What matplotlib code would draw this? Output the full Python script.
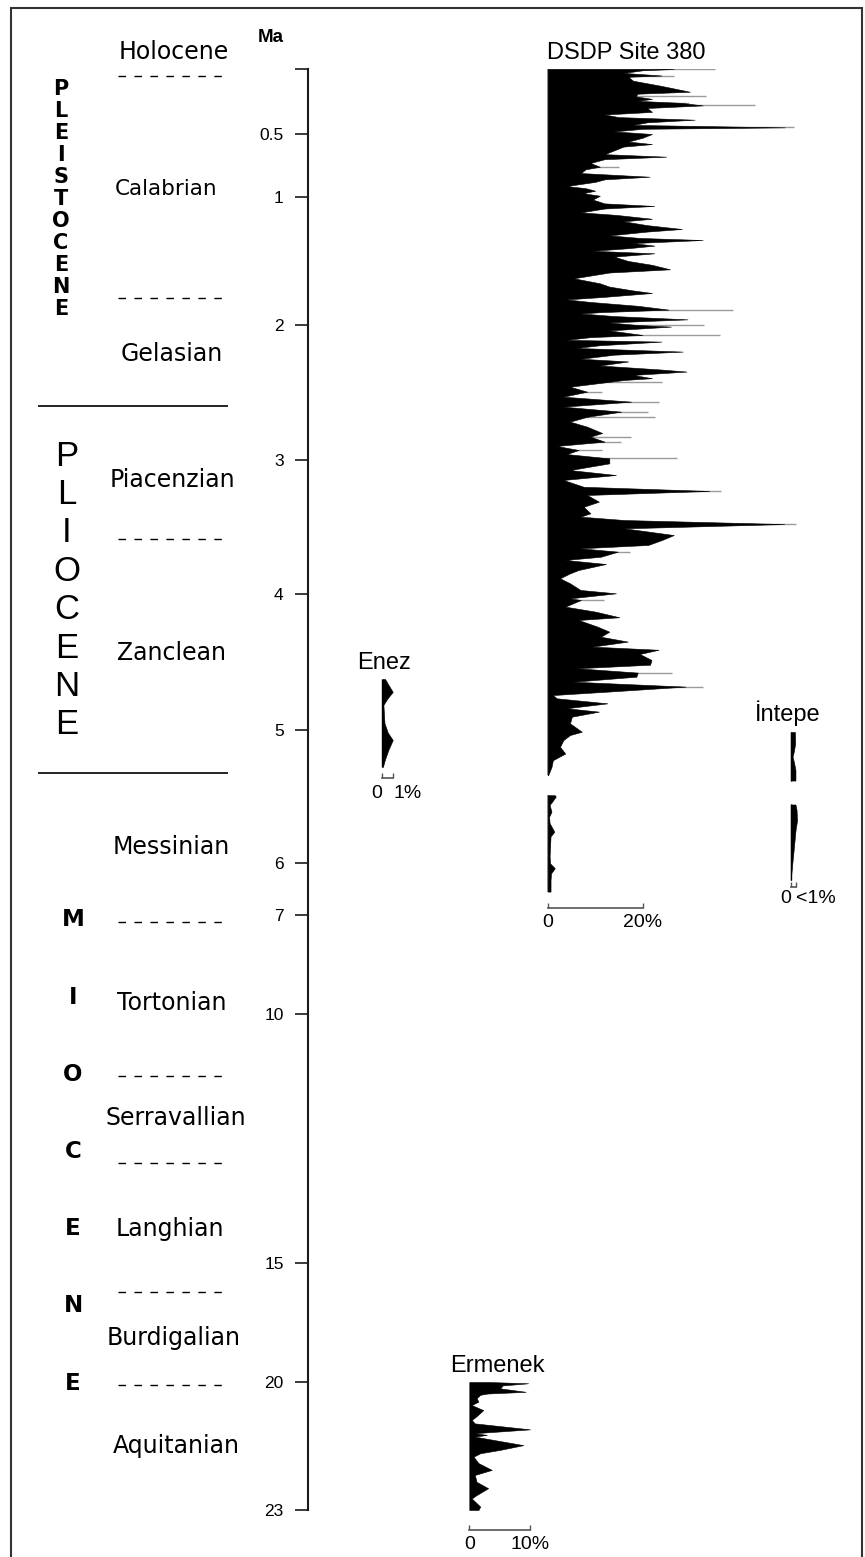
import numpy as np
import matplotlib
matplotlib.use("Agg")
import matplotlib.pyplot as plt
from matplotlib import transforms
from matplotlib.patches import Rectangle
from matplotlib.ticker import NullLocator

plt.rcParams["font.family"] = ["Liberation Sans", "DejaVu Sans"]

# ============================================================
# Data (ages in Ma, abundances in %)
# ============================================================

AXIS_TICKS = [0, 0.5, 1, 2, 3, 4, 5, 6, 7, 10, 15, 20, 23]
AXIS_LABELS = ["", "0.5", "1", "2", "3", "4", "5", "6", "7", "10", "15", "20", "23"]

STAGES = ["Holocene", "Calabrian", "Gelasian", "Piacenzian", "Zanclean", "Messinian",
          "Tortonian", "Serravallian", "Langhian", "Burdigalian", "Aquitanian"]
STAGE_LABEL_AGES = [-0.13, 0.94, 2.215, 3.15, 4.434, 5.88, 9.67, 12.09, 14.32, 18.15, 21.5]
STAGE_BOUNDS = [0.054, 1.789, 3.59, 7.21, 11.245, 12.99, 16.22, 20.07]
EPOCH_BOUNDS = [2.6, 5.323]
EPOCHS = ["PLEISTOCENE", "PLIOCENE", "MIOCENE"]

# DSDP Site 380, upper interval (age, %)
DSDP_UPPER = [
    (0.000, 26.6), (0.010, 20), (0.030, 16), (0.050, 24), (0.060, 17), (0.090, 18),
    (0.130, 24), (0.175, 30), (0.190, 19), (0.210, 18.5), (0.230, 22), (0.245, 19),
    (0.260, 28), (0.280, 32.7), (0.300, 21), (0.330, 22), (0.350, 12), (0.370, 15),
    (0.390, 31), (0.410, 21), (0.430, 18), (0.449, 50), (0.460, 20), (0.480, 14),
    (0.500, 22), (0.530, 20), (0.560, 17), (0.580, 22), (0.600, 16), (0.630, 14),
    (0.660, 12), (0.680, 25), (0.700, 12), (0.730, 9), (0.760, 11), (0.780, 8),
    (0.810, 7), (0.839, 21.5), (0.860, 12), (0.880, 10), (0.913, 4), (0.930, 8),
    (0.950, 10), (0.970, 7.5), (0.990, 11), (1.020, 9.5), (1.050, 12), (1.070, 22.5),
    (1.090, 12), (1.120, 7), (1.140, 14.5), (1.170, 22), (1.190, 16), (1.220, 21),
    (1.250, 28.3), (1.270, 21), (1.300, 13), (1.320, 19.5), (1.336, 32.7), (1.360, 18),
    (1.380, 22.5), (1.400, 17), (1.420, 9.5), (1.440, 22.5), (1.466, 14), (1.500, 17),
    (1.530, 22), (1.565, 25.8), (1.590, 13), (1.620, 8), (1.635, 5.5), (1.660, 9),
    (1.674, 11), (1.700, 13), (1.730, 18), (1.750, 22), (1.780, 12), (1.800, 4),
    (1.820, 9), (1.850, 19), (1.880, 25.5), (1.900, 11), (1.910, 7), (1.930, 14),
    (1.956, 29.5), (1.980, 13), (2.000, 19), (2.012, 26), (2.040, 13), (2.074, 20),
    (2.090, 9), (2.110, 4), (2.123, 24), (2.150, 11), (2.170, 6), (2.197, 28.5),
    (2.220, 14), (2.250, 7), (2.270, 17), (2.300, 11), (2.330, 24), (2.345, 29.3),
    (2.370, 18), (2.394, 22), (2.407, 16.2), (2.457, 4.7), (2.494, 8.3), (2.531, 3.3),
    (2.568, 17.6), (2.605, 3.3), (2.642, 15.5), (2.680, 8.3), (2.716, 4.7), (2.753, 8.3),
    (2.800, 11.5), (2.827, 9.0), (2.864, 12.0), (2.896, 1.9), (2.926, 6.5), (2.956, 4.0),
    (2.988, 13.0), (3.025, 13.0), (3.075, 4.7), (3.112, 14.4), (3.149, 3.3), (3.200, 7.6),
    (3.231, 34.1), (3.261, 8.3), (3.311, 10.8), (3.349, 7.6), (3.398, 9.0), (3.423, 6.9),
    (3.448, 16.2), (3.478, 49.9), (3.510, 16.2), (3.560, 26.6), (3.597, 24.1), (3.634, 21.2),
    (3.659, 6.9), (3.684, 14.8), (3.722, 11.2), (3.746, 3.7), (3.776, 12.3), (3.821, 6.5),
    (3.846, 4.7), (3.883, 2.6), (3.920, 4.7), (3.970, 6.9), (3.995, 14.4), (4.032, 4.7),
    (4.044, 7.0), (4.093, 3.7), (4.130, 10.1), (4.171, 15.1), (4.191, 6.5), (4.240, 10.5),
    (4.277, 13.0), (4.314, 11.2), (4.350, 16.9), (4.387, 9.4), (4.410, 23.4), (4.441, 19.4),
    (4.485, 21.9), (4.520, 21.6), (4.546, 6.2), (4.578, 19.0), (4.608, 18.7), (4.645, 5.4),
    (4.681, 29.1), (4.718, 12.6), (4.743, 1.1), (4.767, 1.9), (4.804, 12.6), (4.840, 4.0),
    (4.865, 10.8), (4.902, 5.1), (4.951, 4.7), (5.013, 7.2), (5.038, 4.7), (5.076, 3.3),
    (5.126, 2.6), (5.177, 3.7), (5.227, 1.1), (5.278, 0.8), (5.340, 0.1),
]

# DSDP Site 380, lower (Messinian) interval
DSDP_LOWER = [
    (5.490, 1.5), (5.500, 1.7), (5.526, 1.2), (5.564, 0.4), (5.614, 0.8), (5.652, 0.3),
    (5.700, 0.4), (5.765, 1.4), (5.800, 0.6), (5.877, 0.5), (5.950, 0.4), (6.006, 0.5),
    (6.100, 1.5), (6.200, 0.7), (6.330, 0.6), (6.550, 0.6),
]

# light-grey peaks extending beyond the black curve
DSDP_GREY = [
    (0.000, 35.4), (0.050, 26.6), (0.210, 33.4), (0.260, 29.8), (0.280, 43.8), (0.449, 52.0),
    (0.760, 15.0), (1.880, 39.0), (2.000, 33.0), (2.074, 36.3), (2.420, 24.1), (2.494, 11.5),
    (2.568, 23.4), (2.642, 21.2), (2.680, 22.7), (2.827, 17.6), (2.864, 15.5), (2.926, 11.5),
    (2.988, 27.3), (3.231, 36.6), (3.478, 52.4), (3.684, 17.3), (4.044, 11.9), (4.578, 26.2),
    (4.681, 32.7),
]

ENEZ = [
    (4.625, 0.25), (4.660, 0.5), (4.720, 0.95), (4.770, 0.45), (4.816, 0.1), (4.880, 0.15),
    (4.950, 0.2), (5.020, 0.5), (5.075, 0.95), (5.150, 0.55), (5.220, 0.25), (5.278, 0.05),
]

INTEPE_UPPER = [(5.015, 0.8), (5.100, 0.85), (5.160, 0.6), (5.200, 0.35), (5.240, 0.6),
                (5.300, 0.9), (5.380, 0.9)]
INTEPE_LOWER = [(5.560, 0.9), (5.600, 1.1), (5.680, 1.2), (5.750, 0.92), (5.850, 0.68),
                (5.950, 0.44), (6.050, 0.26), (6.150, 0.17), (6.250, 0.07), (6.330, 0.0)]

ERMENEK = [
    (20.00, 3.1), (20.03, 9.7), (20.08, 5.5), (20.15, 5.1), (20.23, 9.3), (20.27, 3.0),
    (20.30, 1.8), (20.38, 1.2), (20.46, 1.5), (20.54, 0.4), (20.66, 2.3), (20.80, 1.2),
    (20.89, 0.4), (20.97, 0.9), (21.11, 10.0), (21.20, 0.9), (21.24, 2.9), (21.28, 0.9),
    (21.48, 8.9), (21.59, 5.1), (21.67, 1.8), (21.75, 0.7), (21.90, 1.5), (22.06, 3.7),
    (22.18, 0.9), (22.34, 1.2), (22.49, 3.1), (22.65, 1.2), (22.73, 0.4), (22.92, 1.8),
    (23.00, 1.5),
]

# ============================================================
# Layout: the schematic time axis is not linear
# ============================================================

W, H = 865, 1557
SCALE_AGES = [-1, 0, 0.5, 1, 2, 3, 4, 5, 6, 7, 10, 15, 20, 23, 24]
SCALE_PX = [-61, 69, 134, 197, 325, 460, 594, 730, 863, 915, 1014, 1263, 1382, 1510, 1553]
AX_TOP, AX_BOT = 69, 1510


def to_px(age):
    return np.interp(age, SCALE_AGES, SCALE_PX)


def to_age(px):
    return np.interp(px, SCALE_PX, SCALE_AGES)


def fx(px):
    return px / W


def fy(py):
    return 1 - py / H


fig = plt.figure(figsize=(W / 100, H / 100), dpi=100)

ax = fig.add_axes([fx(308), fy(AX_BOT), 0.3, (AX_BOT - AX_TOP) / H])
ax.set_yscale("function", functions=(to_px, to_age))
ax.set_ylim(23, 0)
ax.patch.set_alpha(0)
for s in ["top", "right", "bottom"]:
    ax.spines[s].set_visible(False)
ax.spines["left"].set_linewidth(1.5)
ax.spines["left"].set_color("#1a1a1a")
ax.set_xticks([])
ax.set_yticks(AXIS_TICKS, AXIS_LABELS)
ax.yaxis.set_minor_locator(NullLocator())
ax.tick_params(axis="y", direction="out", length=9.5, width=1.2, pad=8,
               labelsize=12.5, color="#1a1a1a")

trans = transforms.blended_transform_factory(fig.transFigure, ax.transData)

ax.text(fx(271), -0.24, "Ma", transform=trans, ha="center", va="center",
        fontsize=13.5, fontweight="bold")

# stage names
stage_x = [174, 166, 172, 172, 172, 171, 172, 176, 170, 174, 176]
for name, age, xp in zip(STAGES, STAGE_LABEL_AGES, stage_x):
    size = 15.5 if name == "Calabrian" else 17
    ax.text(fx(xp), age, name, transform=trans, ha="center", va="center",
            fontsize=size, family=["DejaVu Sans"])

ax.hlines(STAGE_BOUNDS, fx(118), fx(226), transform=trans, colors="black",
          lw=1.0, linestyles=[(0, (5.4, 6.1))], clip_on=False)
ax.hlines(EPOCH_BOUNDS, fx(38), fx(228), transform=trans, colors="black",
          lw=1.2, clip_on=False)
ax.set_xlim(0, 1)

# epoch names, written letter by letter down the page
epoch_style = [
    dict(x=61, top=89, bottom=309, size=15, weight="bold", family=["DejaVu Sans"]),
    dict(x=67, top=456, bottom=725, size=25, weight="normal", family=["Liberation Sans"]),
    dict(x=73, top=920, bottom=1383, size=16.5, weight="bold", family=["DejaVu Sans"]),
]
for name, st in zip(EPOCHS, epoch_style):
    ys = np.linspace(st["top"], st["bottom"], len(name))
    for ch, yp in zip(name, ys):
        fig.text(fx(st["x"]), fy(yp), ch, ha="center", va="center",
                 fontsize=st["size"], fontweight=st["weight"], family=st["family"])


# ============================================================
# Record panels
# ============================================================

def record_axes(x0_px, px_per_unit, width_px):
    a = fig.add_axes([fx(x0_px), fy(AX_BOT), width_px / W, (AX_BOT - AX_TOP) / H],
                     sharey=ax)
    a.set_xlim(0, width_px / px_per_unit)
    a.patch.set_alpha(0)
    for s in ["top", "right", "left"]:
        a.spines[s].set_visible(False)
    a.tick_params(axis="y", left=False, labelleft=False)
    return a


def scale_bar(a, position, top, labels, pad, aligns=None):
    a.spines["bottom"].set_position(position)
    a.spines["bottom"].set_bounds(0, top)
    a.spines["bottom"].set_color("#555555")
    a.spines["bottom"].set_linewidth(1.2)
    a.set_xticks([0, top], labels)
    a.tick_params(axis="x", direction="in", length=3.5, width=1.0, color="#555555",
                  pad=pad, labelsize=14)
    if aligns:
        for lab, ha in zip(a.get_xticklabels(), aligns):
            lab.set_horizontalalignment(ha)


def draw_fill(a, rows, **kw):
    arr = np.array(rows)
    a.fill_betweenx(arr[:, 0], 0, arr[:, 1], color="black", lw=0.4, clip_on=False, **kw)


# DSDP Site 380
ax_d = record_axes(547.7, 4.74, 300)
grey = np.array(DSDP_GREY)
ax_d.hlines(grey[:, 0], 0, grey[:, 1], colors="#9a9a9a", lw=1.0, zorder=1)
ax_d.vlines(0, DSDP_UPPER[0][0], DSDP_UPPER[-1][0], colors="#8a8a8a", lw=1.3,
            zorder=1, clip_on=False)
ax_d.vlines(0, DSDP_LOWER[0][0], DSDP_LOWER[-1][0], colors="#8a8a8a", lw=1.3,
            zorder=1, clip_on=False)
draw_fill(ax_d, DSDP_UPPER, zorder=2)
draw_fill(ax_d, DSDP_LOWER, zorder=2)
scale_bar(ax_d, ("data", 6.865), 20, ["0", "20%"], pad=4)
ax_d.text(16.5, -0.12, "DSDP Site 380", ha="center", va="center", fontsize=17)

# Enez
ax_e = record_axes(382.3, 11.0, 60)
ax_e.vlines(0, ENEZ[0][0], ENEZ[-1][0], colors="black", lw=1.0, clip_on=False)
draw_fill(ax_e, ENEZ)
scale_bar(ax_e, ("data", 5.36), 1, ["0", "1%"], pad=5, aligns=["right", "left"])
ax_e.text(0.15, 4.507, "Enez", ha="center", va="center", fontsize=17)

# Intepe
ax_i = record_axes(790.7, 5.3, 60)
ax_i.vlines(0, INTEPE_UPPER[0][0], INTEPE_UPPER[-1][0], colors="black", lw=1.0,
            clip_on=False)
ax_i.vlines(0, INTEPE_LOWER[0][0], INTEPE_LOWER[-1][0], colors="black", lw=1.0,
            clip_on=False)
draw_fill(ax_i, INTEPE_UPPER)
draw_fill(ax_i, INTEPE_LOWER)
scale_bar(ax_i, ("data", 6.46), 1, ["0", "<1%"], pad=2, aligns=["right", "left"])
ax_i.text(-0.5, 4.875, "İntepe", ha="center", va="center", fontsize=17)

# Ermenek
ax_r = record_axes(469.3, 6.07, 120)
draw_fill(ax_r, ERMENEK)
scale_bar(ax_r, ("outward", 14.4), 10, ["0", "10%"], pad=4)
ax_r.text(4.56, 19.33, "Ermenek", ha="center", va="center", fontsize=17)

# outer frame
fig.patches.append(Rectangle((fx(11), fy(1580)), fx(862) - fx(11), fy(8) - fy(1580),
                             transform=fig.transFigure, fill=False, lw=1.5,
                             ec="#333333"))

fig.savefig("out.png", dpi=100)
